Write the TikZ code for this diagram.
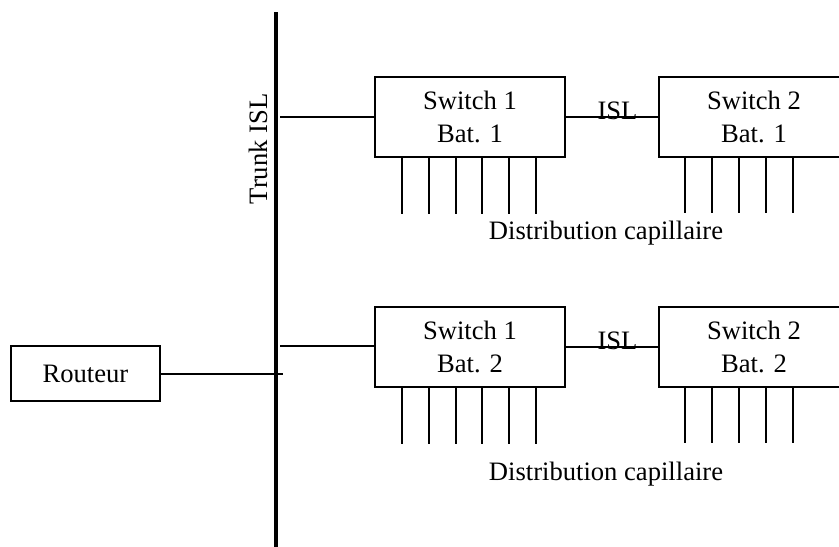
\documentclass[tikz,border=0pt]{standalone}
\usepackage{fontspec}
\setmainfont{Liberation Serif}
\tikzset{
  boite/.style={draw,line width=1pt,minimum width=95pt,minimum height=40pt,
    inner sep=0pt,align=center,font=\fontsize{13.3}{16.5}\selectfont},
  texte/.style={font=\fontsize{13.3}{16.5}\selectfont,inner sep=0pt},
  fil/.style={line width=1pt}
}
\begin{document}
\begin{tikzpicture}[x=0.5pt,y=-0.5pt]
\clip (0,0) rectangle (839,546);
\draw[line width=2pt] (276,12) coordinate (haut) -- (276,560) coordinate (bas);
\node[texte,rotate=90] (trunk) at (258,149) {Trunk ISL};

\node[boite] (sw1b1) at (470,117) {Switch 1\\Bat. 1};
\node[boite] (sw2b1) at (754,117) {Switch 2\\Bat. 1};
\node[boite] (sw1b2) at (470,347) {Switch 1\\Bat. 2};
\node[boite] (sw2b2) at (754,347) {Switch 2\\Bat. 2};
\node[boite,minimum width=74.5pt,minimum height=27.5pt] (routeur) at (85.5,373.5) {Routeur};

\coordinate (t1) at (280,117);
\coordinate (t2) at (280,346);
\coordinate (t3) at (283,373.5);
\draw[fil] (t1) -- (sw1b1.west);
\draw[fil] (t2) -- (sw1b2.west |- t2);
\draw[fil] (routeur.east) -- (t3);

\draw[fil] (sw1b1.east) -- (sw2b1.west) node[texte,anchor=base,pos=0.56,yshift=-1pt] (isl1) {ISL};
\draw[fil] (sw1b2.east) -- (sw2b2.west) node[texte,anchor=base,pos=0.56,yshift=-1pt] (isl2) {ISL};

% distribution capillaire
\foreach \b in {sw1b1,sw1b2}
  \foreach \x in {402,428.8,455.6,482.4,509.2,536}
    \draw[fil] (\x,0 |- \b.south) -- ++(0,56);
\foreach \b in {sw2b1,sw2b2}
  \foreach \x in {685,712,739,766,793}
    \draw[fil] (\x,0 |- \b.south) -- ++(0,55);

\node[texte,anchor=base] (dist1) at (606,239) {Distribution capillaire};
\node[texte,anchor=base] (dist2) at (606,480) {Distribution capillaire};
\end{tikzpicture}
\end{document}
